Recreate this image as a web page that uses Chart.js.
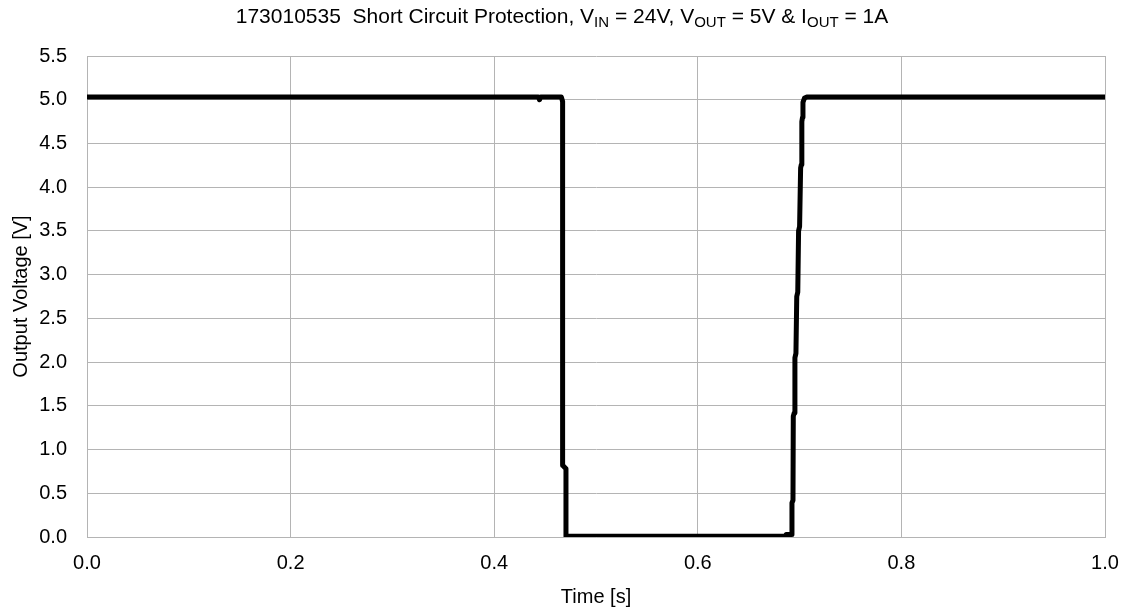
<!DOCTYPE html>
<html>
<head>
<meta charset="utf-8">
<script src="https://cdn.jsdelivr.net/npm/chart.js@4.4.1/dist/chart.umd.min.js"></script>
<style>
    html, body { margin: 0; padding: 0; background: #fff; }
    #wrap { position: relative; width: 1128px; height: 611px; }
    #title {
        position: absolute; left: 0; top: 4px; width: 1124px; text-align: center;
        font-family: "Liberation Sans", Arial, sans-serif; font-size: 21px; line-height: 24px; color: #000;
        white-space: nowrap;
    }
    #title sub { font-size: 15px; line-height: 0; vertical-align: -4px; }
</style>
</head>
<body>
<div id="wrap">
    <div id="title">173010535&nbsp; Short Circuit Protection, V<sub>IN</sub> = 24V, V<sub>OUT</sub> = 5V &amp; I<sub>OUT</sub> = 1A</div>
    <canvas id="chart" width="1128" height="611"></canvas>
</div>
<script>
// Measured trace (time in seconds, output voltage in volts)
const timeS = [0, 0.4435, 0.4445, 0.4455, 0.466, 0.4672, 0.4672, 0.4705, 0.4705, 0.600, 0.686, 0.687, 0.691,
    0.6925, 0.6925, 0.6935, 0.6938, 0.6948, 0.6954, 0.6964, 0.6972, 0.6982, 0.6990, 0.7000, 0.7010, 0.7017,
    0.7022, 0.7029, 0.7033, 0.7048, 0.707, 1.0];
const voltageV = [5.03, 5.03, 5.00, 5.03, 5.03, 4.98, 0.82, 0.78, 0.01, 0.01, 0.01, 0.03, 0.03,
    0.03, 0.39, 0.42, 1.38, 1.42, 2.05, 2.10, 2.75, 2.80, 3.50, 3.55, 4.22, 4.26,
    4.75, 4.80, 4.97, 5.02, 5.03, 5.03];

// Axis ticks
const xTicks = [0.0, 0.2, 0.4, 0.6, 0.8, 1.0];
const yTicks = [0.0, 0.5, 1.0, 1.5, 2.0, 2.5, 3.0, 3.5, 4.0, 4.5, 5.0, 5.5];

const points = timeS.map((t, i) => ({x: t, y: voltageV[i]}));
const gridColor = '#b4b4b4';
const font = {family: '"Liberation Sans", Arial, sans-serif', size: 20};

const ctx = document.getElementById('chart').getContext('2d');
new Chart(ctx, {
    type: 'scatter',
    data: {
        datasets: [{
            data: points,
            showLine: true,
            borderColor: '#000',
            borderWidth: 5,
            pointRadius: 0,
            borderJoinStyle: 'round',
            borderCapStyle: 'round',
            tension: 0
        }]
    },
    options: {
        responsive: false,
        animation: false,
        layout: {padding: {left: 0, top: 56, right: 23, bottom: 0}},
        plugins: {
            legend: {display: false},
            title: {display: false},
            tooltip: {enabled: false}
        },
        scales: {
            x: {
                type: 'linear',
                min: xTicks[0],
                max: xTicks[xTicks.length - 1],
                afterBuildTicks: s => { s.ticks = xTicks.map(v => ({value: v})); },
                afterFit: s => { s.height = 74; s.paddingLeft = 0; s.paddingRight = 0; },
                grid: {color: gridColor, drawTicks: false},
                border: {color: gridColor},
                ticks: {color: '#000', font: font, padding: 14, maxRotation: 0, callback: v => v.toFixed(1)},
                title: {display: true, text: 'Time [s]', color: '#000', font: font, padding: {top: 0, bottom: 2}}
            },
            y: {
                type: 'linear',
                min: yTicks[0],
                max: yTicks[yTicks.length - 1],
                afterBuildTicks: s => { s.ticks = yTicks.map(v => ({value: v})); },
                afterFit: s => { s.width = 87; },
                grid: {color: gridColor, drawTicks: false},
                border: {color: gridColor},
                ticks: {color: '#000', font: font, padding: 20, callback: v => v.toFixed(1)},
                title: {display: true, text: 'Output Voltage [V]', color: '#000', font: font, padding: {top: 9, bottom: 0}}
            }
        }
    }
});
</script>
</body>
</html>
